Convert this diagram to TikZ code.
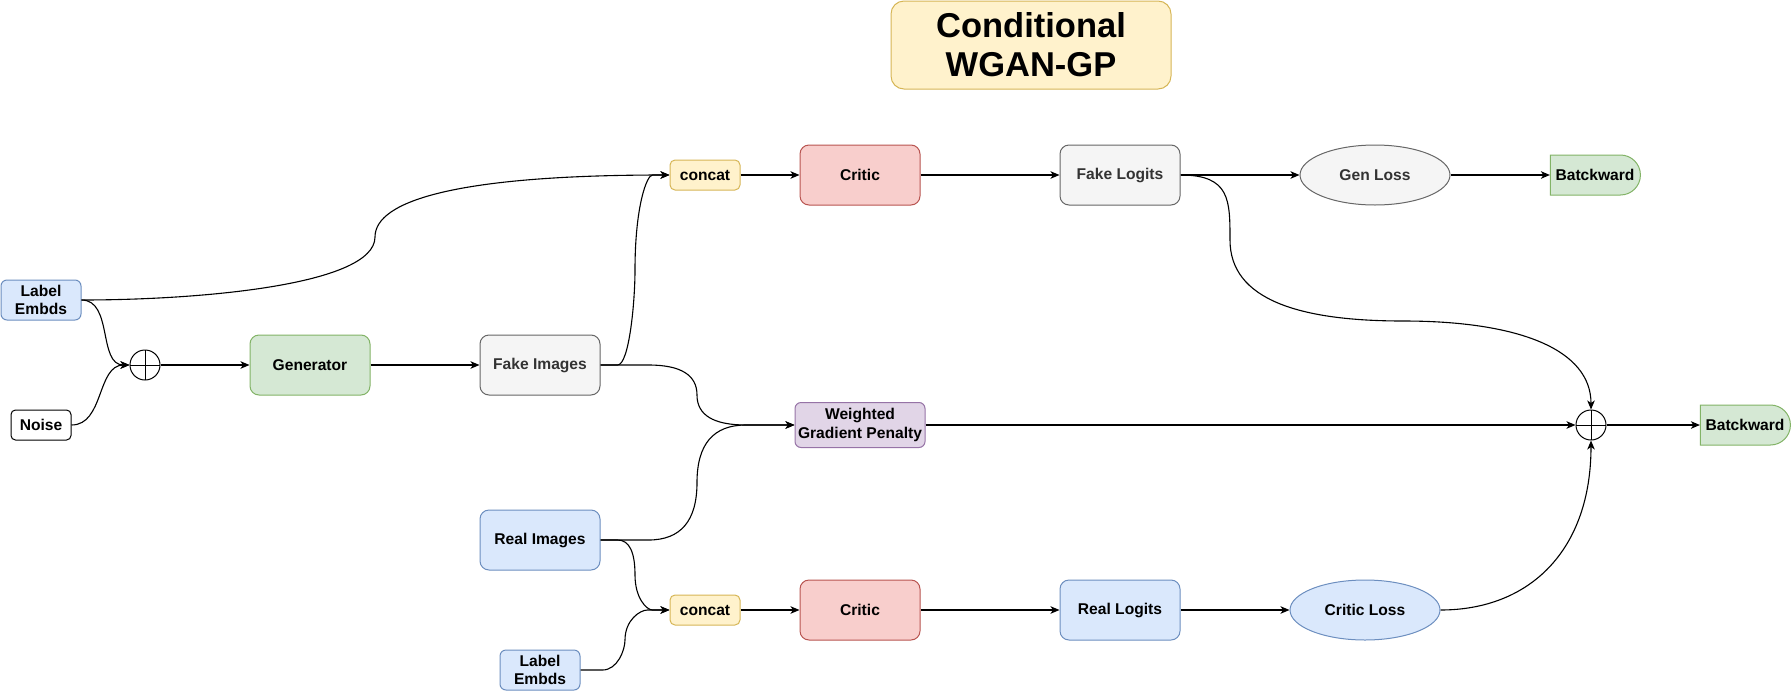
\documentclass[tikz,border=0pt]{standalone}
\usepackage{fontspec}
\setmainfont{Liberation Sans}
\usetikzlibrary{arrows.meta,shapes.geometric,shapes.misc}
\definecolor{bluef}{HTML}{DAE8FC}\definecolor{blued}{HTML}{6C8EBF}
\definecolor{greenf}{HTML}{D5E8D4}\definecolor{greend}{HTML}{82B366}
\definecolor{yellowf}{HTML}{FFF2CC}\definecolor{yellowd}{HTML}{D6B656}
\definecolor{redf}{HTML}{F8CECC}\definecolor{redd}{HTML}{B85450}
\definecolor{grayf}{HTML}{F5F5F5}\definecolor{grayd}{HTML}{666666}\definecolor{grayt}{HTML}{333333}
\definecolor{purplef}{HTML}{E1D5E7}\definecolor{purpled}{HTML}{9673A6}
\newcommand\nodefont{\fontsize{15.6pt}{18.7pt}\selectfont\bfseries}
\newcommand\titlefont{\fontsize{34.5pt}{39pt}\selectfont\bfseries}
\tikzset{
  base/.style={draw, line width=1pt, inner sep=0pt, font=\nodefont, align=center},
  bigbox/.style={base, rounded corners=9pt, minimum width=120pt, minimum height=60pt},
  smallbox/.style={base, rounded corners=5pt, minimum width=70pt, minimum height=30pt},
  lebox/.style={base, rounded corners=6pt, minimum width=80pt, minimum height=40pt, fill=bluef, draw=blued},
  blueC/.style={fill=bluef, draw=blued},
  greenC/.style={fill=greenf, draw=greend},
  yellowC/.style={fill=yellowf, draw=yellowd},
  redC/.style={fill=redf, draw=redd},
  grayC/.style={fill=grayf, draw=grayd, text=grayt},
  oval/.style={base, ellipse, minimum width=150pt, minimum height=60pt},
  dbox/.style={base, rounded rectangle, rounded rectangle west arc=none, minimum width=90pt, minimum height=40pt, fill=greenf, draw=greend},
  sumnode/.style={circle, draw, line width=1pt, minimum size=30pt, inner sep=0pt,
    path picture={\draw[line width=1pt] (path picture bounding box.north) -- (path picture bounding box.south)
      (path picture bounding box.west) -- (path picture bounding box.east);}},
  arr/.style={line width=1.1pt, -{Stealth[length=9pt,width=7.5pt,inset=2.5pt]}},
}
\begin{document}
\begin{tikzpicture}[x=1pt,y=-1pt]
\useasboundingbox (0,0) rectangle (1791,691);
% title
\node[base, yellowC, rounded corners=13pt, minimum width=280pt, minimum height=88pt, font=\titlefont] (title) at (1031,45) {Conditional\\WGAN-GP};
% nodes
\node[lebox] (le1) at (41,300) {Label\\Embds};
\node[base, rounded corners=4.5pt, minimum width=60pt, minimum height=30pt, fill=white, draw=black] (noise) at (41,425) {Noise};
\node[sumnode] (sum1) at (145,365) {};
\node[bigbox, greenC] (gen) at (310,365) {Generator};
\node[bigbox, grayC] (fi) at (540,365) {Fake Images};
\node[smallbox, yellowC] (c1) at (705,175) {concat};
\node[bigbox, redC] (cr1) at (860,175) {Critic};
\node[bigbox, grayC] (fl) at (1120,175) {Fake Logits};
\node[oval, grayC] (gl) at (1375,175) {Gen Loss};
\node[dbox] (bw1) at (1595,175) {Batckward};
\node[base, purplef, fill=purplef, draw=purpled, text=black, rounded corners=6pt, minimum width=130pt, minimum height=45pt] (wgp) at (860,425) {Weighted\\Gradient Penalty};
\node[sumnode] (sum2) at (1591,425) {};
\node[dbox] (bw2) at (1745,425) {Batckward};
\node[bigbox, blueC] (ri) at (540,540) {Real Images};
\node[smallbox, yellowC] (c2) at (705,610) {concat};
\node[bigbox, redC] (cr2) at (860,610) {Critic};
\node[bigbox, blueC] (rl) at (1120,610) {Real Logits};
\node[oval, blueC] (cl) at (1365,610) {Critic Loss};
\node[lebox] (le2) at (540,670) {Label\\Embds};
% edges
\draw[arr] (le1.east) .. controls (200,300) and (375,285) .. (375,237) .. controls (375,200) and (460,175) .. (c1.west);
\draw[arr] (le1.east) to[out=0,in=180] (sum1.west);
\draw[arr] (noise.east) to[out=0,in=180] (sum1.west);
\draw[arr] (sum1) -- (gen);
\draw[arr] (gen) -- (fi);
\draw[arr] (fi.east) -- (617.5,365) .. controls (629.2,365) and (635,301.7) .. (635,270) .. controls (635,206.7) and (646.7,175) .. (652.5,175) -- (c1.west);
\draw[arr] (fi.east) -- (648.5,365) .. controls (680.8,365) and (697,375) .. (697,395) .. controls (697,415) and (713.3,425) .. (746,425) -- (wgp.west);
\draw[arr] (ri.east) -- (648.5,540) .. controls (680.8,540) and (697,520.8) .. (697,482.5) .. controls (697,444.2) and (713.3,425) .. (746,425) -- (wgp.west);
\draw[arr] (ri.east) -- (617.5,540) .. controls (629.2,540) and (635,551.7) .. (635,575) .. controls (635,598.3) and (646.7,610) .. (652.5,610) -- (c2.west);
\draw[arr] (le2.east) -- (602.5,670) .. controls (617.5,670) and (625,650) .. (625,640) .. controls (625,620) and (640,610) .. (647.5,610) -- (c2.west);
\draw[arr] (c1) -- (cr1);
\draw[arr] (cr1) -- (fl);
\draw[arr] (fl) -- (gl);
\draw[arr] (gl) -- (bw1);
\draw[arr] (c2) -- (cr2);
\draw[arr] (cr2) -- (rl);
\draw[arr] (rl) -- (cl);
\draw[arr] (wgp) -- (sum2);
\draw[arr] (sum2) -- (bw2);
\draw[arr] (fl.east) .. controls (1230,175) and (1230,200) .. (1230,240) .. controls (1230,300) and (1300,321) .. (1403,321) .. controls (1520,321) and (1591,350) .. (sum2.north);
\draw[arr] (cl.east) .. controls (1530,610) and (1591,550) .. (sum2.south);
\end{tikzpicture}
\end{document}
